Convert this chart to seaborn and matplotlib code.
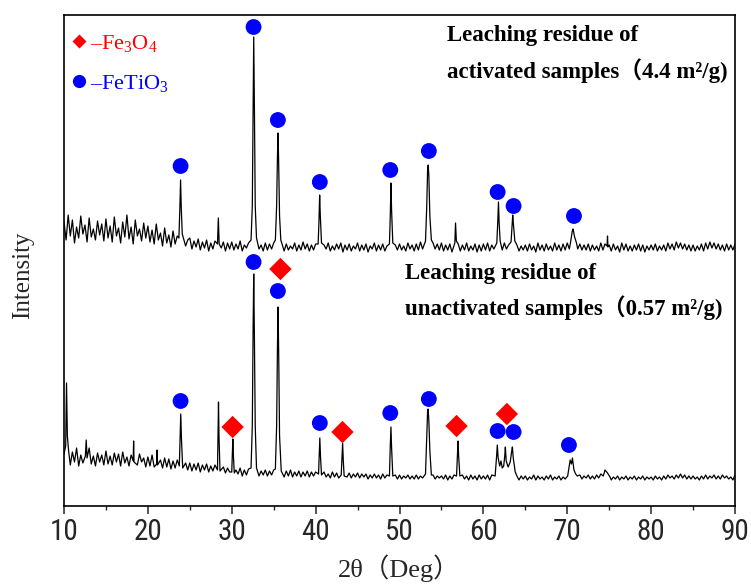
import numpy as np
import pandas as pd
import seaborn as sns
import matplotlib.pyplot as plt
from matplotlib.ticker import MultipleLocator

# scan grid (2theta, deg) for the background points
two_theta = np.arange(10.0, 90.01, 0.25)

# activated sample - background (one row = 5 deg)
act_base = [284, 266, 291, 270, 286, 263, 279, 268, 290, 272, 281, 264, 288, 269, 277, 266, 285, 271, 282, 265,
            287, 268, 280, 264, 289, 270, 278, 263, 284, 269, 291, 267, 279, 262, 286, 270, 277, 265, 283, 268,
            280, 264, 276, 262, 282, 266, 273, 260, 278, 263, 271, 259, 275, 262, 270, 258, 268, 270, 260, 266,
            268, 257, 265, 259, 267, 256, 264, 258, 266, 255, 263, 257, 265, 256, 262, 258, 264, 255, 263, 257,
            264, 256, 262, 257, 265, 255, 261, 258, 263, 255, 262, 256, 264, 257, 261, 255, 263, 256, 262, 257,
            263, 256, 261, 257, 264, 255, 262, 256, 260, 257, 263, 255, 261, 256, 264, 257, 262, 255, 261, 256,
            262, 256, 264, 255, 261, 257, 263, 255, 260, 256, 262, 257, 263, 254, 261, 256, 262, 255, 260, 257,
            263, 255, 261, 256, 262, 254, 260, 257, 263, 255, 261, 256, 262, 255, 260, 256, 263, 254, 261, 256,
            262, 256, 260, 255, 263, 257, 261, 255, 262, 256, 264, 257, 263, 256, 265, 258, 263, 257, 262, 256,
            263, 255, 261, 256, 262, 254, 260, 256, 262, 255, 261, 256, 263, 255, 260, 256, 262, 254, 261, 255,
            262, 256, 263, 255, 261, 257, 262, 255, 260, 256, 263, 257, 261, 255, 262, 256, 261, 255, 260, 256,
            261, 255, 262, 256, 260, 254, 263, 256, 261, 255, 262, 256, 260, 255, 263, 256, 261, 255, 262, 256,
            263, 257, 265, 258, 264, 257, 262, 256, 261, 256, 262, 255, 261, 256, 260, 255, 263, 256, 262, 255,
            261, 255, 262, 256, 260, 254, 263, 256, 262, 255, 260, 255, 261, 256, 262, 255, 261, 254, 260, 256,
            261, 256, 262, 255, 260, 256, 261, 255, 263, 257, 262, 256, 264, 258, 263, 257, 262, 256, 261, 255,
            261, 255, 260, 256, 262, 255, 263, 257, 264, 258, 263, 257, 262, 256, 261, 255, 262, 256, 261, 256,
            262]
# activated sample - peaks
act_pk_x = [23.7, 23.82, 23.9, 23.98, 24.1,
            28.3, 28.4, 28.5,
            32.3, 32.45, 32.55, 32.62, 32.7, 32.8, 32.95,
            35.2, 35.35, 35.45, 35.52, 35.6, 35.7, 35.85,
            40.3, 40.4, 40.48, 40.56, 40.7,
            48.8, 48.9, 48.98, 49.06, 49.2,
            53.1, 53.25, 53.35, 53.42, 53.5, 53.62, 53.8,
            56.6, 56.68, 56.78,
            61.6, 61.72, 61.8, 61.88, 62.0,
            63.3, 63.42, 63.5, 63.58, 63.75,
            70.4, 70.6, 70.7, 70.85, 71.1,
            74.75, 74.8, 74.85]
act_pk_y = [268, 300, 326, 298, 272,
            262, 288, 262,
            266, 300, 400, 469, 400, 300, 268,
            266, 300, 350, 373, 340, 290, 266,
            262, 285, 311, 290, 263,
            262, 290, 323, 295, 263,
            265, 300, 336, 341, 330, 290, 266,
            263, 283, 265,
            263, 285, 304, 283, 265,
            264, 280, 291, 282, 265,
            264, 275, 277, 270, 263,
            260, 270, 259]

# unactivated sample - background
unact_base = [52, 42, 57, 41, 54, 44, 58, 40, 51, 43, 55, 45, 58, 42, 50, 40, 53, 44, 51, 41,
              55, 42, 50, 41, 53, 44, 52, 40, 54, 43, 49, 40, 51, 42, 53, 41, 52, 44, 48, 39,
              49, 40, 51, 39, 52, 41, 46, 38, 48, 39, 47, 37, 45, 38, 46, 37, 44, 39, 43, 36,
              43, 35, 42, 36, 43, 34, 41, 36, 42, 34, 40, 35, 41, 33, 40, 34, 39, 33, 38, 34,
              37, 31, 36, 32, 38, 30, 36, 31, 37, 30, 35, 31, 37, 30, 35, 31, 36, 30, 35, 31,
              36, 30, 35, 31, 36, 29, 35, 30, 36, 29, 34, 30, 35, 29, 34, 30, 35, 29, 34, 30,
              34, 29, 33, 28, 34, 29, 32, 28, 34, 29, 33, 28, 33, 28, 32, 29, 33, 28, 32, 29,
              33, 28, 32, 29, 32, 27, 31, 28, 32, 28, 31, 27, 32, 28, 31, 27, 32, 28, 31, 27,
              31, 27, 30, 28, 31, 27, 30, 27, 31, 27, 30, 28, 31, 27, 30, 28, 31, 27, 30, 28,
              30, 27, 31, 26, 30, 27, 31, 26, 30, 27, 31, 27, 30, 26, 31, 27, 30, 26, 31, 27,
              30, 27, 31, 26, 31, 27, 30, 26, 31, 27, 30, 27, 31, 26, 30, 27, 31, 26, 30, 27,
              30, 26, 29, 27, 31, 26, 30, 27, 29, 26, 30, 27, 31, 26, 29, 27, 30, 26, 29, 27,
              30, 27, 31, 28, 32, 28, 31, 27, 30, 28, 31, 27, 30, 27, 31, 28, 32, 27, 31, 28,
              30, 26, 29, 27, 30, 26, 29, 27, 30, 26, 29, 27, 30, 26, 29, 27, 30, 26, 29, 27,
              29, 26, 30, 27, 29, 26, 30, 27, 31, 28, 30, 27, 31, 28, 32, 28, 31, 27, 30, 27,
              30, 27, 29, 26, 30, 27, 31, 27, 30, 28, 31, 27, 30, 27, 31, 28, 30, 27, 29, 26,
              31]
# unactivated sample - peaks
unact_pk_x = [10.0, 10.2, 10.3, 10.4, 10.55,
              12.55, 12.65, 12.75,
              18.25, 18.3, 18.35,
              21.05, 21.1, 21.15,
              23.75, 23.85, 23.92, 24.0, 24.15,
              28.3, 28.37, 28.42, 28.48, 28.6,
              30.0, 30.08, 30.13, 30.2, 30.3,
              32.3, 32.45, 32.55, 32.62, 32.7, 32.8, 32.95,
              35.2, 35.35, 35.45, 35.52, 35.6, 35.7, 35.9,
              40.35, 40.45, 40.5, 40.58, 40.7,
              43.05, 43.15, 43.22, 43.3, 43.4,
              48.8, 48.9, 48.98, 49.05, 49.2,
              53.1, 53.25, 53.35, 53.42, 53.5, 53.62, 53.8,
              56.8, 56.9, 56.98, 57.05, 57.2,
              61.4, 61.58, 61.66, 61.76, 61.95, 62.1, 62.25, 62.42,
              62.55, 62.62, 62.72, 62.95, 63.2, 63.38, 63.46, 63.56, 63.8, 64.05,
              70.05, 70.2, 70.35, 70.5, 70.62, 70.8, 71.2,
              74.3, 74.5, 74.8, 75.1]
unact_pk_y = [52, 60, 123, 70, 55,
              50, 66, 48,
              45, 65, 44,
              42, 56, 41,
              40, 70, 92, 68, 38,
              36, 80, 104, 70, 35,
              34, 55, 67, 50, 33,
              38, 80, 180, 232, 170, 80, 38,
              37, 80, 160, 199, 150, 70, 35,
              32, 55, 68, 50, 31,
              31, 50, 63, 45, 30,
              30, 60, 79, 60, 30,
              32, 70, 95, 97, 85, 55, 31,
              30, 50, 65, 50, 30,
              30, 50, 61, 48, 40, 45, 38, 40,
              50, 59, 45, 39, 44, 55, 59, 48, 34, 29,
              30, 38, 46, 42, 48, 36, 30,
              30, 36, 33, 29]

# phase markers
mark_x = [23.9, 32.6, 35.5, 40.5, 48.9, 53.5, 61.7, 63.6, 70.8,
          23.9, 32.6, 35.5, 40.5, 48.9, 53.5, 61.7, 63.6, 70.2,
          30.1, 35.8, 43.2, 56.8, 62.8]
mark_y = [340, 479, 386, 324, 336, 355, 314, 300, 290,
          105, 244, 215, 83, 93, 107, 75, 74, 61,
          79, 237, 74, 80, 92]
fe3o4 = '–Fe$_3$O$_4$'
fetio3 = '–FeTiO$_3$'
mark_phase = [fetio3] * 18 + [fe3o4] * 5

assert len(act_base) == len(two_theta) and len(unact_base) == len(two_theta)


def build(base, pk_x, pk_y):
    # background points next to a peak are replaced by the peak points
    keep = [i for i, x in enumerate(two_theta) if min(abs(x - p) for p in pk_x) > 0.15]
    xs = [two_theta[i] for i in keep] + list(pk_x)
    ys = [base[i] for i in keep] + list(pk_y)
    return pd.DataFrame({'two_theta': xs, 'intensity': ys}).sort_values('two_theta')


act = build(act_base, act_pk_x, act_pk_y)
unact = build(unact_base, unact_pk_x, unact_pk_y)
marks = pd.DataFrame({'two_theta': mark_x, 'intensity': mark_y, 'phase': mark_phase})

sns.set_style('ticks')
plt.rcParams['font.family'] = ['Liberation Serif', 'Noto Sans CJK SC']
plt.rcParams['mathtext.fontset'] = 'custom'
plt.rcParams['mathtext.rm'] = 'Liberation Serif'
plt.rcParams['mathtext.default'] = 'regular'

fig = plt.figure(figsize=(7.51, 5.85), dpi=100)
ax = fig.add_axes([64 / 751, 79 / 585, 671 / 751, 491 / 585])

sns.lineplot(data=act, x='two_theta', y='intensity', estimator=None, sort=False,
             color='black', lw=0.9, ax=ax)
sns.lineplot(data=unact, x='two_theta', y='intensity', estimator=None, sort=False,
             color='black', lw=0.9, ax=ax)
sns.scatterplot(data=marks, x='two_theta', y='intensity', hue='phase', style='phase',
                hue_order=[fe3o4, fetio3], style_order=[fe3o4, fetio3],
                palette={fe3o4: 'red', fetio3: 'blue'}, markers={fe3o4: 'D', fetio3: 'o'},
                s=130, edgecolor='none', ax=ax, zorder=3)

handles, labels = ax.get_legend_handles_labels()
handles[0].set_markersize(7)
handles[1].set_markersize(9.5)
ax.legend(handles, labels, loc='upper left', bbox_to_anchor=(0.002, 0.972), frameon=False,
          fontsize=16, labelcolor=['red', 'blue'], handlelength=0.85, handletextpad=0.05,
          labelspacing=0.85, borderaxespad=0.0, borderpad=0.2)

bold = dict(fontsize=16.5, fontweight='bold', color='black', va='center', ha='left')
ax.text(55.65, 470, 'Leaching residue of', **bold)
ax.text(55.65, 435, 'activated samples（4.4 m²/g)', **bold)
ax.text(50.64, 233, 'Leaching residue of', **bold)
ax.text(50.64, 198, 'unactivated samples（0.57 m²/g)', **bold)

ax.set_xlim(10, 90)
ax.set_ylim(0, 491)
ax.set_yticks([])
ax.xaxis.set_major_locator(MultipleLocator(10))
ax.xaxis.set_minor_locator(MultipleLocator(5))
ax.tick_params(axis='x', which='major', direction='out', length=6, width=1.1, labelsize=21, pad=3)
ax.tick_params(axis='x', which='minor', direction='out', length=3, width=1.0)
for lab in ax.get_xticklabels():
    lab.set_family(['Roboto Condensed', 'Liberation Sans'])
for sp in ax.spines.values():
    sp.set_visible(True)
    sp.set_linewidth(1.2)
    sp.set_color('black')

ax.set_xlabel('2θ（Deg）', fontsize=19, labelpad=6)
ax.set_ylabel('Intensity', fontsize=18)
ax.yaxis.set_label_coords(-0.045, 0.47)

fig.savefig('out.png', dpi=100)
